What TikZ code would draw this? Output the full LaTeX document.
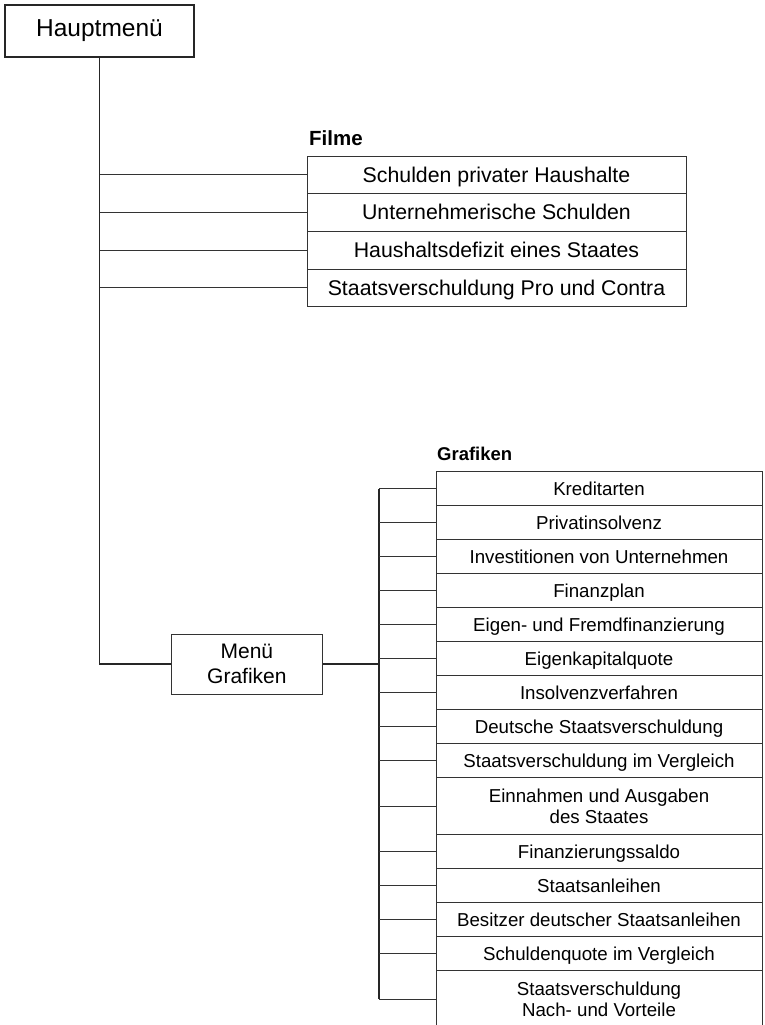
\documentclass[tikz,border=0pt]{standalone}
\usepackage{fontspec}
\setmainfont{Liberation Sans}

\begin{document}
\begin{tikzpicture}[x=1pt, y=-1pt,
  thinline/.style={draw=black!80, line width=1pt},
  busline/.style={draw=black!85, line width=1.8pt},
  mainbox/.style={draw=black!85, line width=2.4pt, minimum width=188.6pt, minimum height=51.6pt, inner sep=0pt, font=\fontsize{24.5}{28}\selectfont},
  menubox/.style={draw=black!80, line width=1pt, minimum width=151.7pt, minimum height=60pt, inner sep=0pt, align=center, font=\fontsize{21}{24.7}\selectfont},
  filmbox/.style={draw=black!80, line width=1pt, outer sep=0pt, anchor=north west, minimum width=379pt, minimum height=37.7pt, inner sep=0pt, text height=19.3pt, text depth=4.5pt, font=\fontsize{21.3}{25}\selectfont},
  grafbox/.style={draw=black!80, line width=1pt, outer sep=0pt, anchor=north west, minimum width=326pt, inner sep=0pt},
  grafrow/.style={grafbox, minimum height=34pt, text height=16.9pt, text depth=4pt, font=\fontsize{18.7}{21}\selectfont},
  grafbig/.style={grafbox, minimum height=57pt, align=center, font=\fontsize{18.7}{20.5}\selectfont},
  heading/.style={anchor=base west, inner sep=0pt, font=\bfseries}]
  \useasboundingbox (0,0) rectangle (764,1025);

  % Main menu
  \node[mainbox] (haupt) at (99.5,31) {Hauptmenü};

  % Films
  \node[heading, font=\fontsize{20.5}{23}\selectfont\bfseries] (filme) at (309,145) {Filme};
  \node[filmbox] (f1) at (307,156) {Schulden privater Haushalte};
  \node[filmbox] (f2) at (307,193.7) {Unternehmerische Schulden};
  \node[filmbox] (f3) at (307,231.3) {Haushaltsdefizit eines Staates};
  \node[filmbox] (f4) at (307,269) {Staatsverschuldung Pro und Contra};

  % Graphics submenu
  \node[menubox] (menu) at (246.9,664) {Menü\\Grafiken};

  \node[heading, font=\fontsize{18.5}{21}\selectfont\bfseries] (grafiken) at (437,460) {Grafiken};
  \node[grafrow] (g1) at (436,471.7) {Kreditarten};
  \node[grafrow] (g2) at (436,505.7) {Privatinsolvenz};
  \node[grafrow] (g3) at (436,539.7) {Investitionen von Unternehmen};
  \node[grafrow] (g4) at (436,573.7) {Finanzplan};
  \node[grafrow] (g5) at (436,607.7) {Eigen- und Fremdfinanzierung};
  \node[grafrow] (g6) at (436,641.7) {Eigenkapitalquote};
  \node[grafrow] (g7) at (436,675.7) {Insolvenzverfahren};
  \node[grafrow] (g8) at (436,709.7) {Deutsche Staatsverschuldung};
  \node[grafrow] (g9) at (436,743.7) {Staatsverschuldung im Vergleich};
  \node[grafbig] (g10) at (436,777.7) {Einnahmen und Ausgaben\\des Staates};
  \node[grafrow] (g11) at (436,834.7) {Finanzierungssaldo};
  \node[grafrow] (g12) at (436,868.7) {Staatsanleihen};
  \node[grafrow] (g13) at (436,902.7) {Besitzer deutscher Staatsanleihen};
  \node[grafrow] (g14) at (436,936.7) {Schuldenquote im Vergleich};
  \node[grafbig] (g15) at (436,970.7) {Staatsverschuldung\\Nach- und Vorteile};

  % Connectors
  \draw[busline] (haupt.south) |- (menu.west);
  \foreach \i in {1,...,4}
    \draw[thinline] (haupt.south |- f\i.west) -- (f\i.west);

  \coordinate (bus) at (379,664);
  \draw[busline] (menu.east) -- (bus);
  \draw[busline] (bus |- g1.west) -- (bus |- g15.west);
  \foreach \i in {1,...,15}
    \draw[thinline] (bus |- g\i.west) -- (g\i.west);
\end{tikzpicture}
\end{document}
